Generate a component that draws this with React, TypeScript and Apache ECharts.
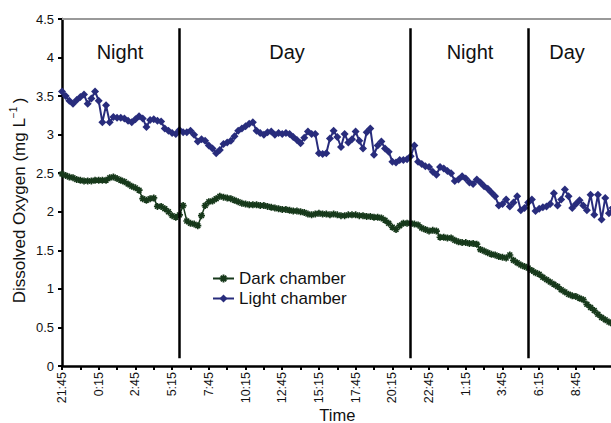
import React, { useEffect, useRef } from "react";
import * as echarts from "echarts";

// Light chamber (blue diamonds), one reading every 15 min from 21:45
const lightChamber: number[] = [
  3.56, 3.5, 3.44, 3.4, 3.45, 3.49, 3.52, 3.4, 3.47, 3.56,
  3.44, 3.16, 3.38, 3.16, 3.23, 3.22, 3.22, 3.21, 3.18, 3.16,
  3.2, 3.24, 3.21, 3.1, 3.19, 3.2, 3.18, 3.17, 3.08, 3.05,
  3.02, 3.01, 3.06, 3.03, 3.03, 3.05, 3.0, 2.91, 2.94, 2.92,
  2.86, 2.82, 2.76, 2.8, 2.88, 2.9, 2.92, 2.98, 3.05, 3.08,
  3.11, 3.14, 3.16, 3.05, 3.02, 3.0, 3.03, 3.04, 3.0, 3.02,
  3.01, 3.02, 3.01, 2.97, 2.93, 2.89, 2.96, 3.04, 3.01, 3.01,
  2.76, 2.75, 2.76, 2.95, 3.05, 2.97, 2.84, 3.01, 2.9, 2.94,
  3.04, 2.92, 2.82, 3.03, 3.08, 2.74, 2.86, 2.91, 2.82, 2.78,
  2.65, 2.64, 2.67, 2.67, 2.68, 2.72, 2.86, 2.65, 2.62, 2.59,
  2.58, 2.52, 2.48, 2.58, 2.56, 2.53, 2.5, 2.4, 2.42, 2.46,
  2.43, 2.38, 2.36, 2.42, 2.38, 2.33, 2.3, 2.25, 2.2, 2.08,
  2.1, 2.16, 2.07, 2.12, 2.2, 2.02, 2.05, 2.12, 2.16, 2.01,
  2.04, 2.06, 2.07, 2.1, 2.24, 2.08, 2.16, 2.29, 2.2, 2.05,
  2.1, 2.15, 2.08, 2.02, 2.22, 1.96, 2.22, 1.9, 2.18, 1.98,
  2.05,
];

// Dark chamber (green crosses)
const darkChamber: number[] = [
  2.49, 2.47, 2.45, 2.44, 2.42, 2.41, 2.4, 2.4, 2.4, 2.41,
  2.41, 2.41, 2.41, 2.44, 2.45, 2.43, 2.41, 2.39, 2.36, 2.33,
  2.31, 2.28, 2.17, 2.15, 2.17, 2.18, 2.07, 2.07, 2.04, 2.0,
  1.95, 1.93, 1.96, 2.08, 1.88, 1.85, 1.84, 1.82, 1.95, 2.08,
  2.13, 2.14, 2.17, 2.2, 2.19, 2.18, 2.17, 2.15, 2.13, 2.11,
  2.1, 2.09, 2.09, 2.09, 2.08, 2.08, 2.07, 2.06, 2.05, 2.04,
  2.03, 2.03, 2.02, 2.01, 2.01, 2.0, 1.99, 1.97, 1.96, 1.97,
  1.98, 1.97, 1.97, 1.96, 1.97, 1.96, 1.95, 1.95, 1.96, 1.96,
  1.96, 1.95, 1.95, 1.94, 1.94, 1.93, 1.93, 1.92, 1.89, 1.85,
  1.8, 1.77, 1.82, 1.85, 1.85, 1.85, 1.84, 1.83, 1.79, 1.77,
  1.75, 1.76, 1.75, 1.67, 1.67, 1.66, 1.66, 1.63, 1.61, 1.6,
  1.6, 1.59, 1.59, 1.58, 1.51, 1.49, 1.47, 1.45, 1.44, 1.42,
  1.41, 1.4, 1.44, 1.37, 1.34, 1.31, 1.29, 1.27, 1.24, 1.21,
  1.19, 1.15, 1.12, 1.09, 1.06, 1.03, 0.99, 0.96, 0.93, 0.91,
  0.9, 0.88, 0.86, 0.8, 0.76, 0.72, 0.67, 0.63, 0.6, 0.57,
  0.55,
];

// Time categories: 15-minute readings starting at 21:45
const startTime = "21:45";
const stepMinutes = 15;
const categories: string[] = (() => {
  const [h, m] = startTime.split(":").map(Number);
  const out: string[] = [];
  for (let i = 0; i < lightChamber.length; i++) {
    const t = (h * 60 + m + i * stepMinutes) % (24 * 60);
    const hh = Math.floor(t / 60);
    const mm = t % 60;
    out.push(`${hh}:${mm < 10 ? "0" + mm : mm}`);
  }
  return out;
})();

// Tick labels shown on the axis (every 2.5 h)
const tickLabels: string[] = [
  "21:45", "0:15", "2:45", "5:15", "7:45", "10:15", "12:45", "15:15",
  "17:45", "20:15", "22:45", "1:15", "3:45", "6:15", "8:45",
];

// Night/day boundaries (category index) and period labels
const boundaryIndex: number[] = [32, 95, 127];
const periodLabels: string[] = ["Night", "Day", "Night", "Day"];

const FONT = "'Liberation Sans', Arial, Helvetica, sans-serif";
const BLUE = "#282c7c";
const GREEN = "#17391b";

const crossPath =
  "path://M-0.8,-3.4H0.8V-0.8H3.4V0.8H0.8V3.4H-0.8V0.8H-3.4V-0.8H-0.8Z M-2.9,-1.8L-1.8,-2.9L2.9,1.8L1.8,2.9Z M1.8,-2.9L2.9,-1.8L-1.8,2.9L-2.9,1.8Z";

export default function App() {
  const ref = useRef<HTMLDivElement>(null);
  useEffect(() => {
    document.body.style.margin = "0";
    if (!ref.current) return;
    const chart = echarts.init(ref.current, undefined, { renderer: "svg" });
    const labelPos = [120, 287, 470, 567];
    chart.setOption({
      animation: false,
      backgroundColor: "#ffffff",
      textStyle: { fontFamily: FONT },
      grid: {
        left: 62,
        top: 19,
        width: 550.6,
        height: 347,
        containLabel: false,
        outerBoundsMode: "none",
      },
      legend: {
        orient: "vertical",
        left: 212,
        top: 270,
        padding: 0,
        itemGap: 3,
        itemWidth: 21,
        itemHeight: 10,
        textStyle: { fontFamily: FONT, fontSize: 17, color: "#111" },
        data: ["Dark chamber", "Light chamber"],
      },
      graphic: periodLabels.map((t, i) => ({
        type: "text",
        x: labelPos[i],
        y: 52,
        style: {
          text: t,
          fontSize: 20,
          fontFamily: FONT,
          fill: "#111",
          align: "center",
          verticalAlign: "middle",
        },
      })),
      xAxis: {
        type: "category",
        data: categories,
        boundaryGap: false,
        name: "Time",
        nameLocation: "middle",
        nameGap: 40,
        nameMoveOverlap: false,
        nameTextStyle: { fontSize: 16.5, color: "#111", fontFamily: FONT },
        axisLine: { lineStyle: { color: "#000", width: 2.5 } },
        axisTick: { interval: 4, length: 4, lineStyle: { color: "#000", width: 2 } },
        axisLabel: {
          interval: (index: number, value: string) => index % 10 === 0 && tickLabels.includes(value) && index < 145,
          rotate: 90,
          fontSize: 12.5,
          color: "#111",
          margin: 6,
          fontFamily: FONT,
        },
        splitLine: { show: false },
      },
      yAxis: {
        type: "value",
        min: 0,
        max: 4.5,
        interval: 0.5,
        name: "Dissolved Oxygen (mg L{sup|−1}\u2009)",
        nameLocation: "middle",
        nameGap: 32,
        nameMoveOverlap: false,
        nameTextStyle: {
          fontSize: 17,
          color: "#111",
          fontFamily: FONT,
          lineHeight: 22,
          padding: [0, 16, 0, 0],
          rich: {
            sup: { fontSize: 10, verticalAlign: "top", lineHeight: 22, fontFamily: FONT, color: "#111" },
          },
        },
        axisLine: { show: true, lineStyle: { color: "#000", width: 2.5 } },
        axisTick: { show: true, length: 4, lineStyle: { color: "#000", width: 2 } },
        axisLabel: { fontSize: 13, color: "#111", margin: 8, fontFamily: FONT },
        splitLine: { show: false },
      },
      series: [
        {
          name: "Dark chamber",
          type: "line",
          data: darkChamber,
          symbol: crossPath,
          symbolSize: 7,
          showAllSymbol: true,
          lineStyle: { color: GREEN, width: 1.5 },
          itemStyle: { color: GREEN },
          z: 3,
          markLine: {
            silent: true,
            symbol: ["none", "none"],
            label: { show: false },
            lineStyle: { color: "#000", width: 2.5, type: "solid" },
            data: [
              ...boundaryIndex.map((idx) => [
                { coord: [idx, 4.38] },
                { coord: [idx, 0.1] },
              ]),
              [
                { coord: [0, 4.5] },
                { coord: [categories.length - 1, 4.5], lineStyle: { color: "#999", width: 2 } },
              ],
            ],
          },
        },
        {
          name: "Light chamber",
          type: "line",
          data: lightChamber,
          symbol: "diamond",
          symbolSize: 8,
          showAllSymbol: true,
          lineStyle: { color: BLUE, width: 2 },
          itemStyle: { color: BLUE },
          z: 4,
        },
      ],
    });
    return () => chart.dispose();
  }, []);
  return (
    <div style={{ width: 611, height: 423, overflow: "hidden", position: "relative" }}>
      <div ref={ref} style={{ width: 640, height: 423 }} />
    </div>
  );
}
